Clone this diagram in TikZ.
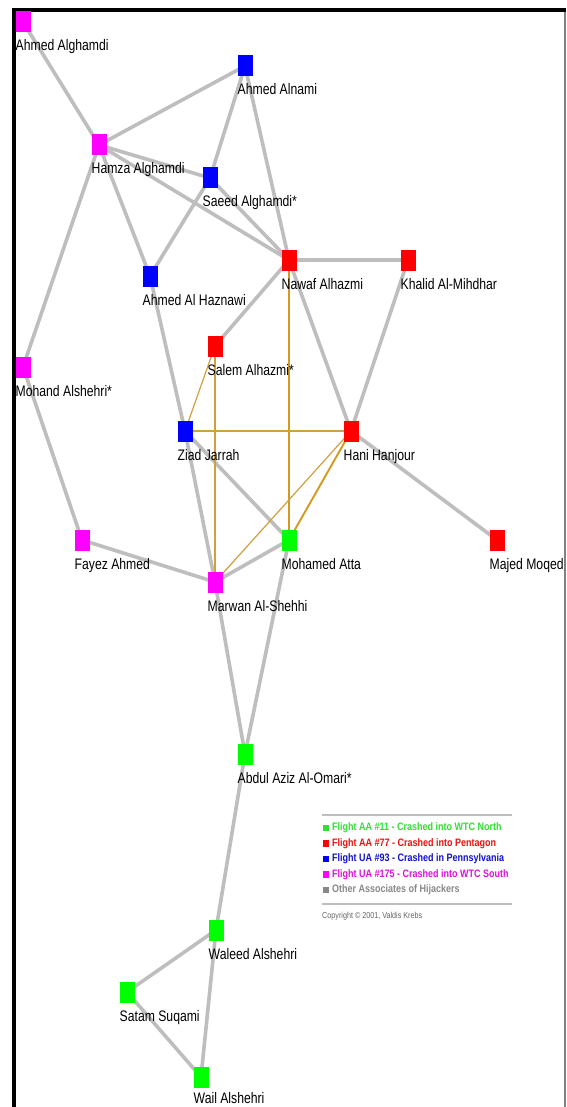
\documentclass[tikz,border=0pt]{standalone}
\usepackage{fontspec}
\setmainfont{Liberation Sans}
\usetikzlibrary{backgrounds}
\definecolor{edgegray}{HTML}{BEBEBE}
\definecolor{orthin}{HTML}{D0A040}
\definecolor{orthick}{HTML}{D49A20}
\definecolor{cmag}{HTML}{FF00FF}
\definecolor{cblue}{HTML}{0000FF}
\definecolor{cred}{HTML}{FF0000}
\definecolor{cgreen}{HTML}{00FF00}
\definecolor{lgreen}{HTML}{33DD33}
\definecolor{lred}{HTML}{EE1111}
\definecolor{lblue}{HTML}{1111CC}
\definecolor{lmag}{HTML}{DD11DD}
\definecolor{lgray}{HTML}{888888}
\definecolor{copygray}{HTML}{666666}
\newcommand\vstretch[1]{\scalebox{1}[1.25]{#1}}
\newcommand\lgstretch[1]{\scalebox{1}[1.2]{#1}}
\newcommand\person[6][29]{%
  \node[sq,fill=#5] (#2) at (#3,#4) {};
  \node[lbl] (#2-l) at ({#3-7.5},{#4+#1}) {\vstretch{#6}};}
\newcommand\legendrow[5]{%
  \node[lgsq,fill=#3] (#1-s) at (326,#2) {};
  \node[lgtxt,text=#4] (#1) at (332,#2) {\lgstretch{#5}};}
\begin{document}
\begin{tikzpicture}[x=1pt,y=-1pt,
  sq/.style={rectangle,draw=none,minimum width=15pt,minimum height=21pt,inner sep=0pt},
  lbl/.style={anchor=base west,inner sep=0pt,font=\fontsize{12.2}{14}\selectfont,text=black},
  gedge/.style={draw=edgegray,line width=3.6pt},
  othin/.style={draw=orthin,line width=1.2pt},
  othick/.style={draw=orthick,line width=1.9pt},
  lgsq/.style={rectangle,draw=none,minimum size=6.5pt,inner sep=0pt},
  lgtxt/.style={anchor=west,inner sep=0pt,font=\fontsize{9}{10}\selectfont\bfseries},
  rulel/.style={draw=edgegray,line width=1.8pt}]
\useasboundingbox (0,0) rectangle (566,1107);

% people
\person{ahmedag}{23}{22}{cmag}{Ahmed Alghamdi}
\person{alnami}{245}{66}{cblue}{Ahmed Alnami}
\person{hamza}{99}{145}{cmag}{Hamza Alghamdi}
\person{saeed}{210}{178}{cblue}{Saeed Alghamdi*}
\person{nawaf}{289}{260}{cred}{Nawaf Alhazmi}
\person{khalid}{408}{260}{cred}{Khalid Al-Mihdhar}
\person{haznawi}{150}{276}{cblue}{Ahmed Al Haznawi}
\person{salem}{215}{346}{cred}{Salem Alhazmi*}
\person{mohand}{23}{367}{cmag}{Mohand Alshehri*}
\person{ziad}{185}{431}{cblue}{Ziad Jarrah}
\person{hani}{351}{431}{cred}{Hani Hanjour}
\person{fayez}{82}{540}{cmag}{Fayez Ahmed}
\person{atta}{289}{540}{cgreen}{Mohamed Atta}
\person{majed}{497}{540}{cred}{Majed Moqed}
\person{marwan}{215}{582}{cmag}{Marwan Al-Shehhi}
\person{abdul}{245}{754}{cgreen}{Abdul Aziz Al-Omari*}
\person{waleed}{216}{930}{cgreen}{Waleed Alshehri}
\person{satam}{127}{992}{cgreen}{Satam Suqami}
\person[26]{wail}{201}{1077}{cgreen}{Wail Alshehri}

% legend
\coordinate (r1a) at (322,815); \coordinate (r1b) at (512,815);
\coordinate (r2a) at (322,904); \coordinate (r2b) at (512,904);
\legendrow{lg1}{828}{lgreen}{lgreen}{Flight AA \#11 - Crashed into WTC North}
\legendrow{lg2}{843.5}{cred}{lred}{Flight AA \#77 - Crashed into Pentagon}
\legendrow{lg3}{859}{cblue}{lblue}{Flight UA \#93 - Crashed in Pennsylvania}
\legendrow{lg4}{874.5}{cmag}{lmag}{Flight UA \#175 - Crashed into WTC South}
\legendrow{lg5}{890}{lgray}{lgray}{Other Associates of Hijackers}
\node[anchor=west,inner sep=0pt,font=\fontsize{7.2}{8}\selectfont,text=copygray] (copy) at (322,916) {\lgstretch{Copyright © 2001, Valdis Krebs}};

\begin{scope}[on background layer]
  \fill[white] (0,0) rectangle (566,1107);
  % frame
  \fill[black] (12.3,8.3) rectangle (566,12.3);
  \fill[black] (12.3,8.3) rectangle (15.8,1107);
  \fill[gray] (564.3,12.3) rectangle (566,1107);
  % legend rules
  \draw[rulel] (r1a) -- (r1b);
  \draw[rulel] (r2a) -- (r2b);
  % gray edges
  \draw[gedge] (ahmedag.center) -- (hamza.center);
  \draw[gedge] (hamza.center) -- (alnami.center);
  \draw[gedge] (hamza.center) -- (saeed.center);
  \draw[gedge] (hamza.center) -- (nawaf.center);
  \draw[gedge] (hamza.center) -- (haznawi.center);
  \draw[gedge] (hamza.center) -- (mohand.center);
  \draw[gedge] (alnami.center) -- (saeed.center);
  \draw[gedge] (alnami.center) -- (nawaf.center);
  \draw[gedge] (saeed.center) -- (nawaf.center);
  \draw[gedge] (saeed.center) -- (haznawi.center);
  \draw[gedge] (haznawi.center) -- (ziad.center);
  \draw[gedge] (nawaf.center) -- (khalid.center);
  \draw[gedge] (nawaf.center) -- (salem.center);
  \draw[gedge] (nawaf.center) -- (hani.center);
  \draw[gedge] (khalid.center) -- (hani.center);
  \draw[gedge] (hani.center) -- (majed.center);
  \draw[gedge] (ziad.center) -- (marwan.center);
  \draw[gedge] (ziad.center) -- (atta.center);
  \draw[gedge] (marwan.center) -- (atta.center);
  \draw[gedge] (fayez.center) -- (marwan.center);
  \draw[gedge] (mohand.center) -- (fayez.center);
  \draw[gedge] (marwan.center) -- (abdul.center);
  \draw[gedge] (atta.center) -- (abdul.center);
  \draw[gedge] (abdul.center) -- (waleed.center);
  \draw[gedge] (waleed.center) -- (satam.center);
  \draw[gedge] (waleed.center) -- (wail.center);
  \draw[gedge] (satam.center) -- (wail.center);
  % orange edges
  \draw[othick] (nawaf.center) -- (atta.center);
  \draw[othick] (hani.center) -- (atta.center);
  \draw[othin] (ziad.center) -- (hani.center);
  \draw[othin] (ziad.center) -- (salem.center);
  \draw[othin] (salem.center) -- (marwan.center);
  \draw[othin] (hani.center) -- (marwan.center);
\end{scope}
\end{tikzpicture}
\end{document}
